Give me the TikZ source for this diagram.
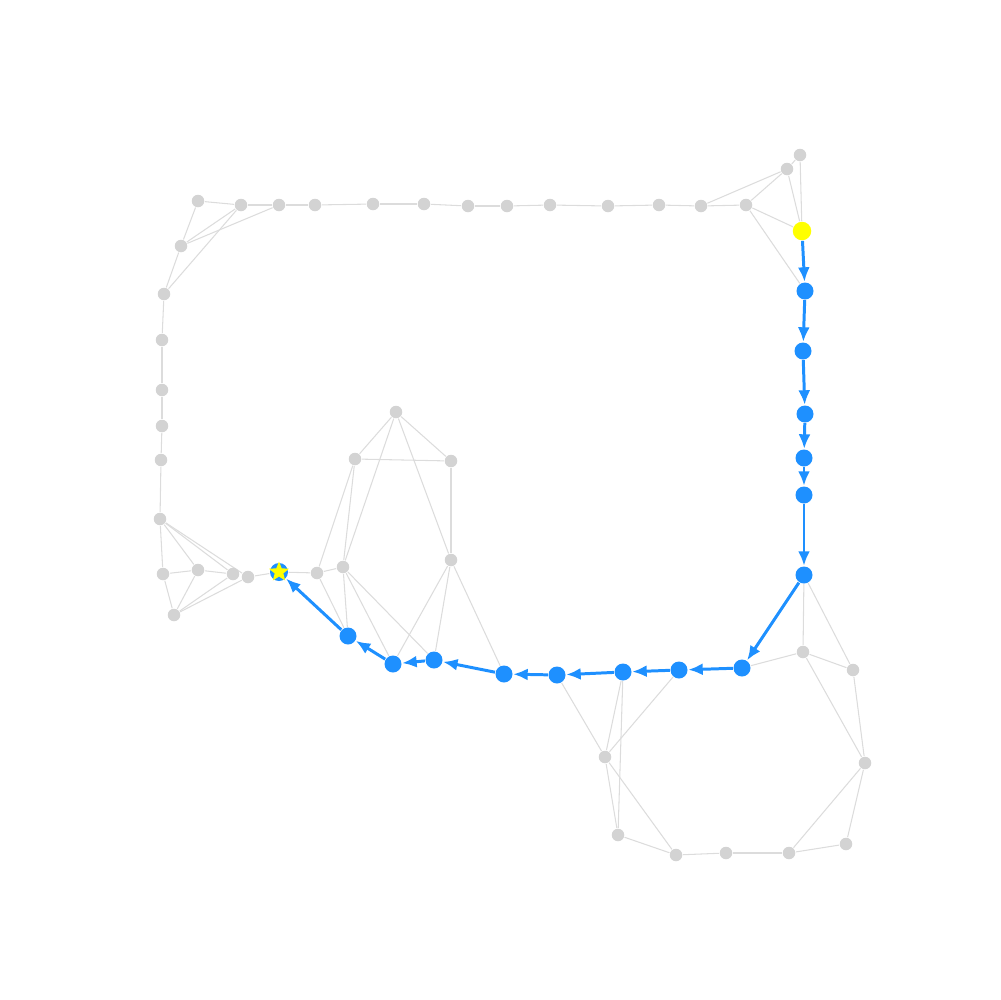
\documentclass[tikz,border=0pt]{standalone}
\usetikzlibrary{arrows.meta,shapes.geometric,backgrounds}
\definecolor{nodegray}{HTML}{D3D3D3}
\definecolor{edgegray}{HTML}{DCDCDC}
\definecolor{route}{HTML}{1E90FF}
\definecolor{start}{HTML}{FFFF00}

\begin{document}
\begin{tikzpicture}[x=0.1mm, y=-0.1mm,
          vtx/.style={circle, fill=nodegray, inner sep=0pt, minimum size=1.25mm},
          hop/.style={circle, fill=route, inner sep=0pt, minimum size=1.7mm},
          src/.style={circle, fill=start, inner sep=0pt, minimum size=1.85mm},
          edge/.style={draw=edgegray, line width=0.3pt},
          hopline/.style={draw=route, line width=0.85pt, -{Latex[length=1.45mm, width=1.2mm]}}]
        \useasboundingbox (0,0) rectangle (1000,1000);

        % top row
        \node[vtx] (g1) at (198,201) {};  \node[vtx] (g2) at (241,205) {};
        \node[vtx] (g3) at (279,205) {};  \node[vtx] (g4) at (315,205) {};
        \node[vtx] (g5) at (373,204) {};  \node[vtx] (g6) at (424,204) {};
        \node[vtx] (g7) at (468,206) {};  \node[vtx] (g8) at (507,206) {};
        \node[vtx] (g9) at (550,205) {};  \node[vtx] (g10) at (608,206) {};
        \node[vtx] (g11) at (659,205) {}; \node[vtx] (g12) at (701,206) {};
        \node[vtx] (g13) at (746,205) {}; \node[vtx] (g14) at (787,169) {};
        \node[vtx] (g15) at (800,155) {};

        % left column
        \node[vtx] (a1) at (181,246) {};  \node[vtx] (a2) at (164,294) {};
        \node[vtx] (a3) at (162,340) {};  \node[vtx] (a4) at (162,390) {};
        \node[vtx] (a5) at (162,426) {};  \node[vtx] (a6) at (161,460) {};
        \node[vtx] (a7) at (160,519) {};
        \node[vtx] (b1) at (163,574) {};  \node[vtx] (b2) at (198,570) {};
        \node[vtx] (b3) at (233,574) {};  \node[vtx] (b4) at (248,577) {};
        \node[vtx] (b5) at (174,615) {};

        % middle cluster
        \node[vtx] (c1) at (317,573) {};  \node[vtx] (c2) at (343,567) {};
        \node[vtx] (d1) at (396,412) {};  \node[vtx] (d2) at (355,459) {};
        \node[vtx] (d3) at (451,461) {};  \node[vtx] (d4) at (451,560) {};

        % bottom right ring
        \node[vtx] (e1) at (803,652) {};  \node[vtx] (e2) at (853,670) {};
        \node[vtx] (e3) at (865,763) {};  \node[vtx] (e4) at (846,844) {};
        \node[vtx] (e5) at (789,853) {};  \node[vtx] (e6) at (726,853) {};
        \node[vtx] (e7) at (676,855) {};  \node[vtx] (e8) at (618,835) {};
        \node[vtx] (e9) at (605,757) {};

        % route
        \node[src] (s)   at (802,231) {};
        \node[hop] (p1)  at (805,291) {};  \node[hop] (p2)  at (803,351) {};
        \node[hop] (p3)  at (805,414) {};  \node[hop] (p4)  at (804,458) {};
        \node[hop] (p5)  at (804,495) {};  \node[hop] (p6)  at (804,575) {};
        \node[hop] (p7)  at (742,668) {};  \node[hop] (p8)  at (679,670) {};
        \node[hop] (p9)  at (623,672) {};  \node[hop] (p10) at (557,675) {};
        \node[hop] (p11) at (504,674) {};  \node[hop] (p12) at (434,660) {};
        \node[hop] (p13) at (393,664) {};  \node[hop] (p14) at (348,636) {};
        \node[circle, fill=route, inner sep=0pt, minimum size=1.8mm] (t) at (279,572) {};
        \node[star, star points=5, star point ratio=2.3, fill=start, inner sep=0pt,
              minimum size=2.1mm] (tstar) at (t) {};

        % gray edges
        \begin{pgfonlayer}{background}
        \foreach \u/\v in {g1/g2, g2/g3, g3/g4, g4/g5, g5/g6, g6/g7, g7/g8, g8/g9,
                           g9/g10, g10/g11, g11/g12, g12/g13, g12/g14, g13/g14, g14/g15,
                           g15/s, g14/s, g13/s, g13/p1,
                           g1/a1, a1/g2, a1/g3, g2/a2, a1/a2, a2/a3, a3/a4, a4/a5, a5/a6, a6/a7,
                           a7/b1, a7/b2, a7/b3, a7/b4, b1/b2, b2/b3, b1/b5, b2/b5, b5/b3, b5/b4,
                           b4/t, t/c1, c1/c2,
                           d1/d2, d1/d3, d2/d3, d1/c2, d1/d4, d3/d4, d2/c1, d2/c2,
                           c2/p14, c2/p13, c2/p12, c1/p14, d4/p13, d4/p12, d4/p11,
                           p6/e1, p6/e2, p7/e1, e1/e2, e1/e3, e2/e3, e3/e4, e3/e5, e4/e5,
                           e5/e6, e6/e7, e7/e8, e7/e9, e9/e8, p9/e9, p9/e8, p8/e9, p10/e9}
          \draw[edge] (\u) -- (\v);
        \end{pgfonlayer}

        % route arrows
        \draw[hopline] (s) -- (p1);
        \draw[hopline] (p1) -- (p2);
        \draw[hopline] (p2) -- (p3);
        \draw[hopline] (p3) -- (p4);
        \draw[hopline] (p4) -- (p5);
        \draw[hopline] (p5) -- (p6);
        \draw[hopline] (p6) -- (p7);
        \draw[hopline] (p7) -- (p8);
        \draw[hopline] (p8) -- (p9);
        \draw[hopline] (p9) -- (p10);
        \draw[hopline] (p10) -- (p11);
        \draw[hopline] (p11) -- (p12);
        \draw[hopline] (p12) -- (p13);
        \draw[hopline] (p13) -- (p14);
        \draw[hopline] (p14) -- (t);
      \end{tikzpicture}
\end{document}
